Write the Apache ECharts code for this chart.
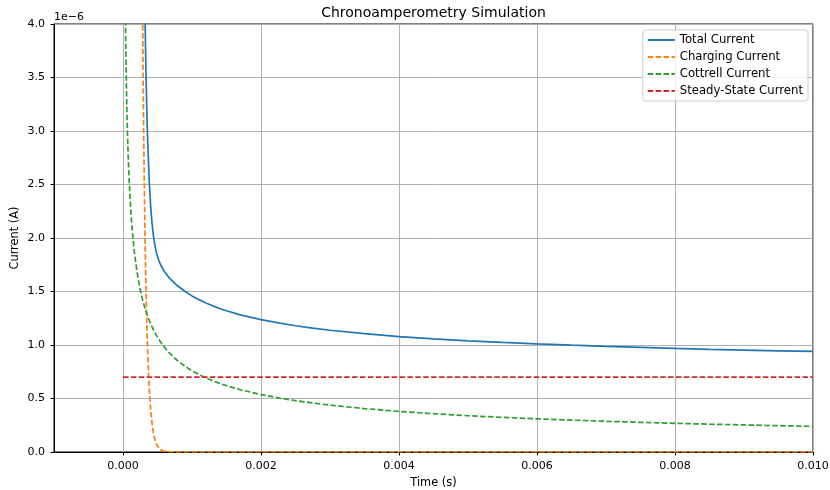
<!DOCTYPE html>
<html>
<head>
<meta charset="utf-8">
<script src="https://cdn.jsdelivr.net/npm/echarts@6/dist/echarts.min.js"></script>
<style>
html,body{margin:0;padding:0;background:#fff;}
#chart{width:830px;height:490px;}
</style>
</head>
<body>
<div id="chart"></div>
<script>
// Time samples (s)
var times = [0.00002, 0.00003, 0.00004, 0.00005, 0.00006, 0.00007, 0.00008, 0.00009, 0.0001, 0.00012,
  0.00015, 0.00017, 0.0002, 0.00022, 0.00025, 0.00028, 0.00029, 0.0003, 0.00031, 0.00032,
  0.00033, 0.00034, 0.00035, 0.00036, 0.00038, 0.0004, 0.00042, 0.00044, 0.00046, 0.00048,
  0.0005, 0.00052, 0.00055, 0.00058, 0.0006, 0.00065, 0.0007, 0.00075, 0.0008, 0.0009,
  0.001, 0.0011, 0.0012, 0.0013, 0.0014, 0.0015, 0.0017, 0.002, 0.00225, 0.0025,
  0.00275, 0.003, 0.0035, 0.004, 0.0045, 0.005, 0.0055, 0.006, 0.0065, 0.007,
  0.0075, 0.008, 0.0085, 0.009, 0.0095, 0.010];
// Currents in units of 1e-6 A
var chargingCurrent = [804.4, 658.6, 539.2, 441.5, 361.4, 295.9, 242.3, 198.4, 162.4, 108.9,
  59.7, 40.04, 21.98, 14.73, 8.086, 4.438, 3.633, 2.975, 2.435, 1.994,
  1.632, 1.337, 1.094, 0.896, 0.601, 0.403, 0.270, 0.181, 0.121, 0.0813,
  0.0545, 0.0365, 0.020, 0.011, 0.0074, 0.0027, 0.001, 0.0004, 0.0001, 0,
  0, 0, 0, 0, 0, 0, 0, 0, 0, 0,
  0, 0, 0, 0, 0, 0, 0, 0, 0, 0,
  0, 0, 0, 0, 0, 0];
var cottrellCurrent = [5.367, 4.382, 3.795, 3.394, 3.098, 2.869, 2.683, 2.530, 2.400, 2.191,
  1.960, 1.841, 1.697, 1.618, 1.518, 1.434, 1.409, 1.386, 1.363, 1.342,
  1.321, 1.302, 1.283, 1.265, 1.231, 1.200, 1.171, 1.144, 1.119, 1.095,
  1.073, 1.052, 1.023, 0.997, 0.980, 0.941, 0.907, 0.876, 0.849, 0.800,
  0.759, 0.724, 0.693, 0.666, 0.641, 0.620, 0.582, 0.537, 0.506, 0.480,
  0.458, 0.438, 0.406, 0.379, 0.358, 0.339, 0.324, 0.310, 0.298, 0.287,
  0.277, 0.268, 0.260, 0.253, 0.246, 0.240];
var totalCurrent = [810.47, 663.68, 543.70, 445.59, 365.20, 299.47, 245.68, 201.63, 165.5, 111.79,
  62.36, 42.58, 24.38, 17.05, 10.304, 6.572, 5.742, 5.061, 4.498, 4.036,
  3.653, 3.339, 3.077, 2.861, 2.532, 2.303, 2.141, 2.025, 1.940, 1.877,
  1.828, 1.789, 1.743, 1.708, 1.687, 1.644, 1.608, 1.576, 1.549, 1.500,
  1.459, 1.424, 1.393, 1.366, 1.341, 1.320, 1.282, 1.237, 1.206, 1.180,
  1.158, 1.138, 1.106, 1.079, 1.058, 1.039, 1.024, 1.010, 0.998, 0.987,
  0.977, 0.968, 0.960, 0.953, 0.946, 0.940];
var steadyTimes = [0, 0.010];
var steadyCurrent = [0.7, 0.7];
var xTicks = [0, 0.002, 0.004, 0.006, 0.008, 0.010];
var yTicks = [0, 0.5, 1.0, 1.5, 2.0, 2.5, 3.0, 3.5, 4.0];
var seriesNames = ['Total Current', 'Charging Current', 'Cottrell Current', 'Steady-State Current'];

function pairs(xs, ys) { return xs.map(function (x, i) { return [x, ys[i]]; }); }

var font = 'DejaVu Sans';
var chart = echarts.init(document.getElementById('chart'), null, { renderer: 'canvas' });
var dash = [5.5, 2.4];
chart.setOption({
  animation: false,
  backgroundColor: '#fff',
  textStyle: { fontFamily: font },
  title: {
    text: 'Chronoamperometry Simulation',
    left: 428.5, textAlign: 'center', top: 1,
    textStyle: { fontFamily: font, fontSize: 14, fontWeight: 'normal', color: '#000' }
  },
  graphic: [{
    type: 'text', left: 54, top: 12,
    style: { text: '1e\u22126', font: '11px "DejaVu Sans"', fill: '#000' }
  }],
  legend: {
    orient: 'vertical', right: 22, top: 30,
    itemWidth: 27, itemHeight: 12, itemGap: 5,
    padding: [4, 5, 4, 4],
    backgroundColor: 'rgba(255,255,255,0.8)',
    borderColor: '#cccccc', borderWidth: 1, borderRadius: 3,
    itemStyle: { opacity: 0 },
    textStyle: { fontFamily: font, fontSize: 11.7, color: '#000' },
    data: seriesNames
  },
  grid: {
    left: 54, right: 17, top: 24, bottom: 38,
    outerBoundsMode: 'none', containLabel: false,
    show: true, borderColor: '#000', borderWidth: 1, backgroundColor: 'transparent'
  },
  xAxis: {
    type: 'value', min: -0.001, max: 0.010,
    name: 'Time (s)', nameLocation: 'middle', nameGap: 26,
    nameTextStyle: { fontFamily: font, fontSize: 11.4, color: '#000' },
    axisLine: { show: true, onZero: false, lineStyle: { color: '#000', width: 1 } },
    axisTick: { show: true, length: 3.5, lineStyle: { color: '#000' }, customValues: xTicks },
    axisLabel: { customValues: xTicks, margin: 9, fontFamily: font, fontSize: 11, color: '#000',
      formatter: function (v) { return v.toFixed(3); } },
    splitLine: { show: true, lineStyle: { color: '#b0b0b0', width: 1 } }
  },
  yAxis: {
    type: 'value', min: 0, max: 4, interval: 0.5,
    name: 'Current (A)', nameLocation: 'middle', nameGap: 33, nameRotate: 90,
    nameMoveOverlap: false,
    nameTextStyle: { fontFamily: font, fontSize: 11.4, color: '#000' },
    axisLine: { show: true, onZero: false, lineStyle: { color: '#000', width: 1 } },
    axisTick: { show: true, length: 3.5, lineStyle: { color: '#000' } },
    axisLabel: { margin: 9, fontFamily: font, fontSize: 11, color: '#000',
      formatter: function (v) { return v.toFixed(1); } },
    splitLine: { show: true, lineStyle: { color: '#b0b0b0', width: 1 } }
  },
  series: [
    { name: seriesNames[0], type: 'line', symbol: 'none', clip: true,
      data: pairs(times, totalCurrent), itemStyle: { color: '#1f77b4' },
      lineStyle: { color: '#1f77b4', width: 1.7 } },
    { name: seriesNames[1], type: 'line', symbol: 'none', clip: true,
      data: pairs(times, chargingCurrent), itemStyle: { color: '#ff7f0e' },
      lineStyle: { color: '#ff7f0e', width: 1.7, type: dash } },
    { name: seriesNames[2], type: 'line', symbol: 'none', clip: true,
      data: pairs(times, cottrellCurrent), itemStyle: { color: '#2ca02c' },
      lineStyle: { color: '#2ca02c', width: 1.7, type: dash } },
    { name: seriesNames[3], type: 'line', symbol: 'none', clip: true,
      data: pairs(steadyTimes, steadyCurrent), itemStyle: { color: '#d62728' },
      lineStyle: { color: '#d62728', width: 1.7, type: dash } }
  ]
});
</script>
</body>
</html>
